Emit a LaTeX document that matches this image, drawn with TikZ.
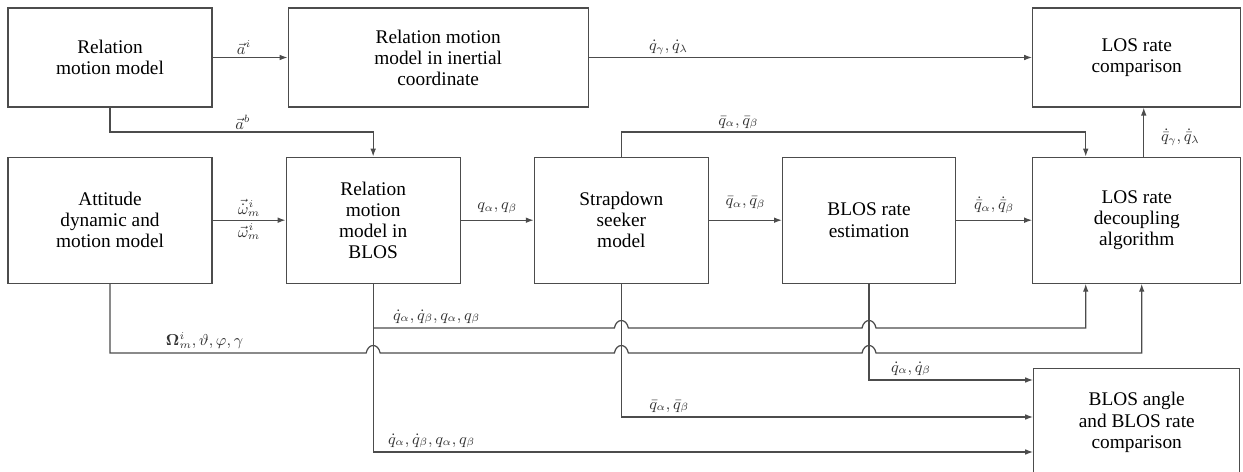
\documentclass[tikz,border=0pt]{standalone}
\usepackage{fontspec}
\setmainfont{Liberation Serif}
\usepackage{amsmath, amssymb, bm}
\usetikzlibrary{positioning, calc, arrows.meta}
% crossing hop over a vertical line
\newcommand{\hop}[2]{-- ($(#1 |- 0,#2)+(-7,0)$) .. controls +(2,-10) and +(-2,-10) .. ++(14,0)}

\tikzset{
	box/.style={draw=black!70, line width=0.7pt, align=center, inner sep=2pt,
		font=\fontsize{11}{12}\selectfont},
	toprow/.style={box, minimum height=1.98cm},
	midrow/.style={box, minimum height=2.52cm},
	flow/.style={draw=black!70, line width=0.7pt, -{Latex[length=4.5pt,width=3.2pt]}},
	lbl/.style={font=\fontsize{9}{10}\selectfont, inner sep=1.5pt, text=black!80},
}

\begin{document}
\begin{tikzpicture}[x=0.02cm, y=-0.02cm]
	\useasboundingbox (0,0) rectangle (1243,472);
	
	\node[toprow, minimum width=4.08cm] (rmm) at (110,57.5) {Relation\\motion model};
	\node[toprow, minimum width=6cm, right=1.5cm of rmm] (rmi) {Relation motion\\model in inertial\\coordinate};
	
	\node[midrow, minimum width=4.08cm, below=0.98cm of rmm] (adm) {Attitude\\dynamic and\\motion model};
	\node[midrow, minimum width=3.48cm, right=1.46cm of adm] (rmb) {Relation\\motion\\model in\\BLOS};
	\node[midrow, minimum width=3.48cm, right=1.46cm of rmb] (ssm) {Strapdown\\seeker\\model};
	\node[midrow, minimum width=3.46cm, right=1.46cm of ssm] (bre) {BLOS rate\\estimation};
	\node[midrow, minimum width=4.16cm, right=1.52cm of bre] (lrd) {LOS rate\\decoupling\\algorithm};
	
	\node[toprow, minimum width=4.16cm, above=0.98cm of lrd] (lrc) {LOS rate\\comparison};
	\node[box, minimum width=4.12cm, minimum height=2.16cm, below=1.68cm of lrd] (bbc) {BLOS angle\\and BLOS rate\\comparison};
	
	% main chains
	\draw[flow] (rmm) -- node[lbl, above, pos=0.42] (lai) {$\vec{a}^{i}$} (rmi);
	\draw[flow] (rmi) -- node[lbl, above, pos=0.18] (lqt) {$\dot{q}_{\gamma},\dot{q}_{\lambda}$} (lrc);
	\draw[flow] (adm) -- node[lbl, above] (lwd) {$\vec{\dot{\omega}}^{i}_{m}$}
		node[lbl, below] (lw) {$\vec{\omega}^{i}_{m}$} (rmb);
	\draw[flow] (rmb) -- node[lbl, above=2pt] (lq) {$q_{\alpha},q_{\beta}$} (ssm);
	\draw[flow] (ssm) -- node[lbl, above=4pt] (lqb) {$\bar{q}_{\alpha},\bar{q}_{\beta}$} (bre);
	\draw[flow] (bre) -- node[lbl, above=2pt] (lqd) {$\dot{\bar{q}}_{\alpha},\dot{\bar{q}}_{\beta}$} (lrd);
	\draw[flow] ($(lrd.north)+(7,0)$) -- node[lbl, right=8pt, pos=0.39] (lqh) {$\dot{\bar{q}}_{\gamma},\dot{\bar{q}}_{\lambda}$} ($(lrc.south)+(7,0)$);
	
	% upper lane
	\draw[flow] (rmm.south) -- (rmm.south |- 0,132) -| (rmb.north);
	\node[lbl, anchor=south] (lab) at ($(rmm.south |- 0,132)+(133,0)$) {$\vec{a}^{b}$};
	\draw[flow] (ssm.north) -- (ssm.north |- 0,132) -| ($(lrd.north)+(-51,0)$);
	\node[lbl, anchor=south] (lqs) at ($(ssm.north |- 0,132)+(117,0)$) {$\bar{q}_{\alpha},\bar{q}_{\beta}$};
	
	% lower lanes
	\draw[flow] (rmb.south) -- (rmb.south |- 0,452) -- (bbc.west |- 0,452);
	\node[lbl, anchor=south west] (lqr) at ($(rmb.south |- 0,452)+(12,-1)$) {$\dot{q}_{\alpha},\dot{q}_{\beta},q_{\alpha},q_{\beta}$};
	\draw[flow] (rmb.south |- 0,328) \hop{ssm.south}{328} \hop{bre.south}{328} -| ($(lrd.south)+(-51,0)$);
	\node[lbl, anchor=south west] (lqu) at ($(rmb.south |- 0,328)+(17,-1)$) {$\dot{q}_{\alpha},\dot{q}_{\beta},q_{\alpha},q_{\beta}$};
	\draw[flow] (adm.south) -- (adm.south |- 0,353) \hop{rmb.south}{353} \hop{ssm.south}{353} \hop{bre.south}{353} -| ($(lrd.south)+(5,0)$);
	\node[lbl, anchor=south west] (lom) at ($(adm.south |- 0,353)+(53,-1)$) {$\bm{\Omega}^{i}_{m},\vartheta,\varphi,\gamma$};
	\draw[flow] (ssm.south) |- (bbc.west |- 0,417);
	\node[lbl, anchor=south west] (lqs2) at ($(ssm.south |- 0,417)+(25,-1)$) {$\bar{q}_{\alpha},\bar{q}_{\beta}$};
	\draw[flow] (bre.south) |- (bbc.west |- 0,380);
	\node[lbl, anchor=south west] (lqe) at ($(bre.south |- 0,380)+(19,-1)$) {$\dot{q}_{\alpha},\dot{q}_{\beta}$};
\end{tikzpicture}
\end{document}
